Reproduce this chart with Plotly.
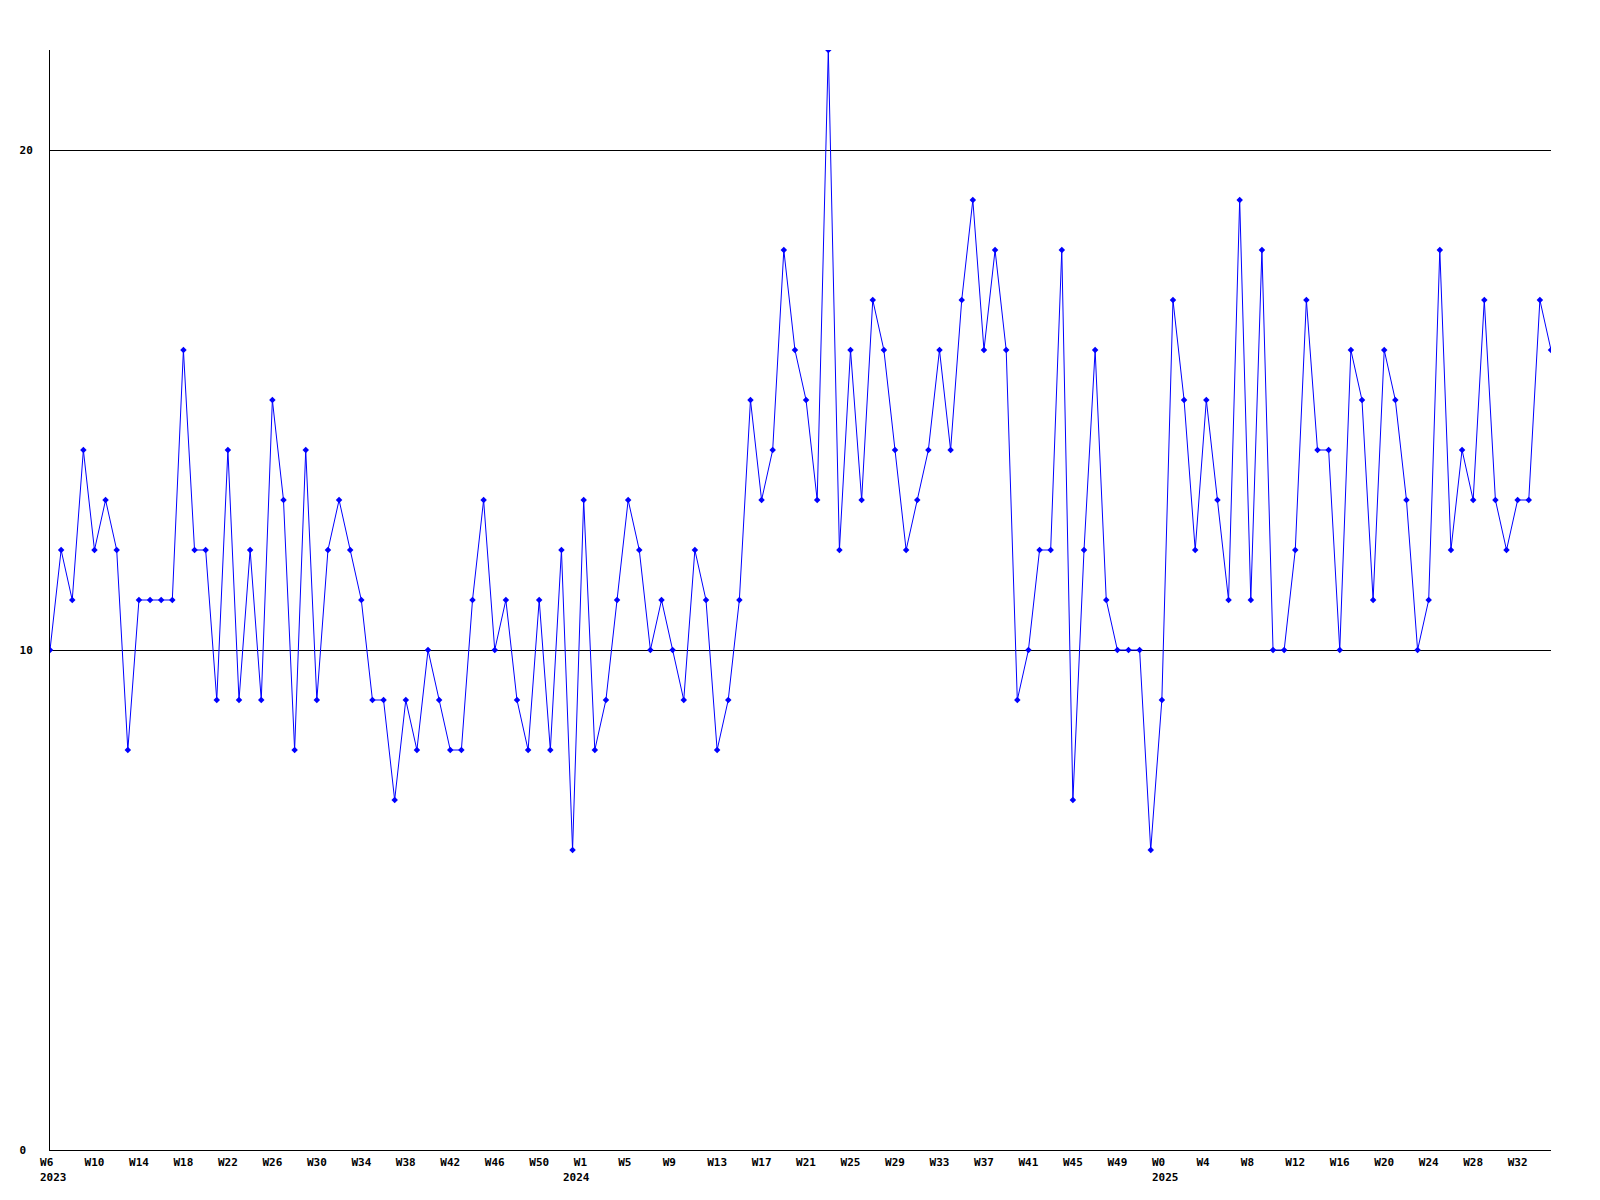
import plotly.graph_objects as go

# Weekly values, 2023 W6 .. 2025 W35 (136 weeks)
values = [
    10, 12, 11, 14, 12, 13, 12, 8, 11, 11, 11, 11, 16, 12, 12, 9, 14, 9, 12, 9,
    15, 13, 8, 14, 9, 12, 13, 12, 11, 9, 9, 7, 9, 8, 10, 9, 8, 8, 11, 13,
    10, 11, 9, 8, 11, 8, 12, 6, 13, 8, 9, 11, 13, 12, 10, 11, 10, 9, 12, 11,
    8, 9, 11, 15, 13, 14, 18, 16, 15, 13, 22, 12, 16, 13, 17, 16, 14, 12, 13, 14,
    16, 14, 17, 19, 16, 18, 16, 9, 10, 12, 12, 18, 7, 12, 16, 11, 10, 10, 10, 6,
    9, 17, 15, 12, 15, 13, 11, 19, 11, 18, 10, 10, 12, 17, 14, 14, 10, 16, 15, 11,
    16, 15, 13, 10, 11, 18, 12, 14, 13, 17, 13, 12, 13, 13, 17, 16,
]

# Week tick labels, one every 4 weeks starting at the first week
week_labels = [
    "W6", "W10", "W14", "W18", "W22", "W26", "W30", "W34", "W38", "W42", "W46", "W50",
    "W1", "W5", "W9", "W13", "W17", "W21", "W25", "W29", "W33", "W37", "W41", "W45", "W49",
    "W0", "W4", "W8", "W12", "W16", "W20", "W24", "W28", "W32",
]
tick_step = 4

# Year labels, at the first week of each year (week index)
years = ["2023", "2024", "2025"]
year_start_index = [0, 47, 100]

y_ticks = [0, 10, 20]
y_ticktext = ["0\u00a0", "10", "20"]

NB = "\u00a0"
x = list(range(len(values)))
tickvals = [i * tick_step for i in range(len(week_labels))]
ticktext = [w + NB * max(0, 3 - len(w)) for w in week_labels]

font = dict(family="DejaVu Sans Mono", size=11, color="black", weight="bold")

fig = go.Figure(
    go.Scatter(
        x=x,
        y=values,
        mode="lines+markers",
        line=dict(color="#0000ff", width=1),
        marker=dict(symbol="diamond", size=5, color="#0000ff"),
        showlegend=False,
    )
)

for yr, xi in zip(years, year_start_index):
    fig.add_annotation(
        x=xi, xref="x", y=0, yref="paper",
        text=yr, showarrow=False,
        xanchor="left", yanchor="middle",
        xshift=-12, yshift=-27,
        font=font,
    )

# The page body adds an 8px offset, so margins are reduced on the left/top.
fig.update_layout(
    width=1600,
    height=1200,
    margin=dict(l=42, r=57, t=42, b=58),
    paper_bgcolor="white",
    plot_bgcolor="white",
    font=font,
    xaxis=dict(
        range=[0, len(values) - 1],
        tickvals=tickvals,
        ticktext=ticktext,
        showgrid=False,
        zeroline=False,
        showline=True,
        linecolor="black",
        linewidth=1,
        ticks="",
        tickfont=font,
        ticklabelstandoff=2,
        automargin=False,
    ),
    yaxis=dict(
        range=[0, 22],
        tickvals=y_ticks,
        ticktext=y_ticktext,
        showgrid=True,
        gridcolor="black",
        gridwidth=1,
        zeroline=False,
        showline=True,
        linecolor="black",
        linewidth=1,
        ticks="",
        tickfont=font,
        ticklabelstandoff=14,
        automargin=False,
    ),
)

fig.write_html("out.html")
